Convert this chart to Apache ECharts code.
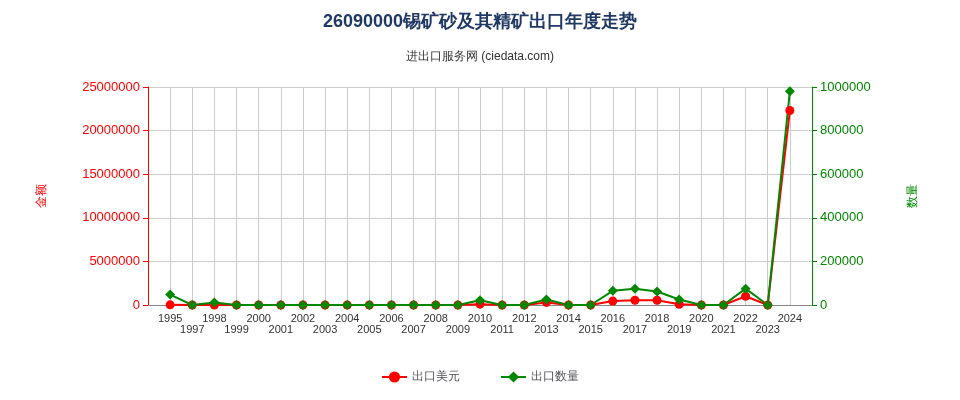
<!DOCTYPE html><html><head><meta charset="utf-8"><script src="https://cdn.jsdelivr.net/npm/echarts@6/dist/echarts.min.js"></script></head><body style="margin:0"><div id="c" style="width:960px;height:400px"></div><script>
const years=['','1995','1997','1998','1999','2000','2001','2002','2003','2004','2005','2006','2007','2008','2009','2010','2011','2012','2013','2014','2015','2016','2017','2018','2019','2020','2021','2022','2023','2024',''];
const usd=[null,20000,0,5000,0,0,0,0,0,0,0,0,0,0,0,100000,0,0,300000,0,0,450000,550000,550000,80000,0,0,1000000,0,22300000,null];
const qty=[null,48000,0,12000,0,0,0,0,0,0,0,0,0,0,0,22000,0,0,25000,0,0,65000,75000,62000,25000,0,0,75000,0,980000,null];
const c=echarts.init(document.getElementById('c'));
c.setOption({
title:[{text:'26090000锡矿砂及其精矿出口年度走势',left:'center',top:8,textStyle:{fontSize:18,fontWeight:'bold',color:'#1f3864'}},
{text:'进出口服务网 (ciedata.com)',left:'center',top:46,textStyle:{fontSize:12,fontWeight:'normal',color:'#333'}}],
grid:{left:148,right:148,top:87,bottom:95},
legend:{bottom:12,itemGap:40,data:['出口美元','出口数量']},
xAxis:{type:'category',boundaryGap:false,data:years,axisTick:{show:false},splitLine:{show:true,lineStyle:{color:'#ccc'}},axisLine:{lineStyle:{color:'#888'}},
axisLabel:{interval:0,color:'#333',fontSize:11,formatter:(v,i)=>i%2?v:'\n'+v}},
yAxis:[{type:'value',min:0,max:25000000,interval:5000000,name:'金额',nameLocation:'middle',nameGap:100,nameTextStyle:{color:'#f00'},axisLine:{show:true,lineStyle:{color:'#f00'}},axisTick:{show:true},axisLabel:{color:'#f00',fontSize:13,formatter:v=>String(v)},splitLine:{lineStyle:{color:'#ccc'}}},
{type:'value',min:0,max:1000000,interval:200000,name:'数量',nameLocation:'middle',nameGap:95,nameTextStyle:{color:'#080'},axisLine:{show:true,lineStyle:{color:'#080'}},axisTick:{show:true},axisLabel:{color:'#080',fontSize:13,formatter:v=>String(v)},splitLine:{show:false}}],
series:[{name:'出口美元',type:'line',data:usd,color:'#f00',symbol:'circle',symbolSize:9,lineStyle:{width:2}},
{name:'出口数量',type:'line',yAxisIndex:1,data:qty,color:'#080',symbol:'diamond',symbolSize:10,lineStyle:{width:2}}]
});
</script></body></html>
